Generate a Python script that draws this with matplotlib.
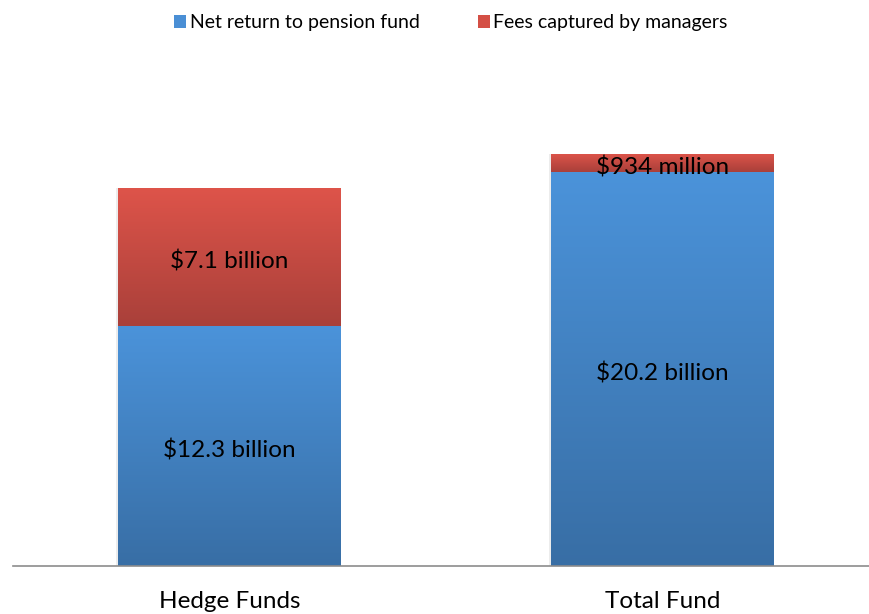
import numpy as np
import matplotlib
matplotlib.use("Agg")
import matplotlib.pyplot as plt
from matplotlib.colors import LinearSegmentedColormap
from matplotlib.patches import Patch

categories = ["Hedge Funds", "Total Fund"]
net_return = [12.3, 20.2]
fees = [7.1, 0.934]
net_labels = ["$12.3 billion", "$20.2 billion"]
fee_labels = ["$7.1 billion", "$934 million"]

plt.rcParams["font.family"] = ["Lato", "DejaVu Sans"]

fig = plt.figure(figsize=(8.69, 6.14), dpi=100)
ax = fig.add_axes([13 / 869, 48 / 614, 856 / 869, (566 - 60) / 614])

x = np.arange(len(categories))
width = 0.515

blue_cmap = LinearSegmentedColormap.from_list("b", ["#386ea5", "#4b93da"])
red_cmap = LinearSegmentedColormap.from_list("r", ["#a9403a", "#de544a"])


def gradient_bar(xc, bottom, height, cmap):
    bars = ax.bar(xc, height, width, bottom=bottom, color="none", edgecolor="none")
    for b in bars:
        grad = np.linspace(0, 1, 256).reshape(-1, 1)
        x0, y0 = b.get_x(), b.get_y()
        im = ax.imshow(grad, cmap=cmap, origin="lower", aspect="auto",
                       extent=[x0, x0 + b.get_width(), y0, y0 + b.get_height()],
                       zorder=2)
        im.set_clip_path(b)
    return bars


# faint shadow to the left of each bar
for xi, tot in zip(x, np.add(net_return, fees)):
    ax.bar(xi - 0.004, tot, width, color="#ececec", zorder=1)

gradient_bar(x, 0, net_return, blue_cmap)
gradient_bar(x, net_return, fees, red_cmap)

for xi, n, f, nl, fl in zip(x, net_return, fees, net_labels, fee_labels):
    ax.annotate(nl, (xi, n / 2), xytext=(0, -3.5), textcoords="offset points",
                ha="center", va="center", fontsize=17.5, color="black", zorder=3)
    ax.annotate(fl, (xi, n + f / 2), xytext=(0, -3.5), textcoords="offset points",
                ha="center", va="center", fontsize=17.5, color="black", zorder=3)

ax.set_xlim(-0.5, 1.477)
ax.set_ylim(0, 25.95)
ax.set_xticks(x)
ax.set_xticklabels(categories, fontsize=17.5)
ax.tick_params(axis="x", length=0, pad=18)
ax.set_yticks([])
for s in ["top", "right", "left"]:
    ax.spines[s].set_visible(False)
ax.spines["bottom"].set_color("#8c8c8c")
ax.spines["bottom"].set_linewidth(1.2)

handles = [Patch(facecolor="#4a8fd5", label="Net return to pension fund"),
           Patch(facecolor="#d44f45", label="Fees captured by managers")]
fig.legend(handles=handles, loc="upper center", bbox_to_anchor=(0.519, 1.005), ncol=2,
           frameon=False, fontsize=14, handlelength=0.6, handleheight=0.6,
           handletextpad=0.2, columnspacing=3.0)

fig.savefig("out.png", dpi=100)
